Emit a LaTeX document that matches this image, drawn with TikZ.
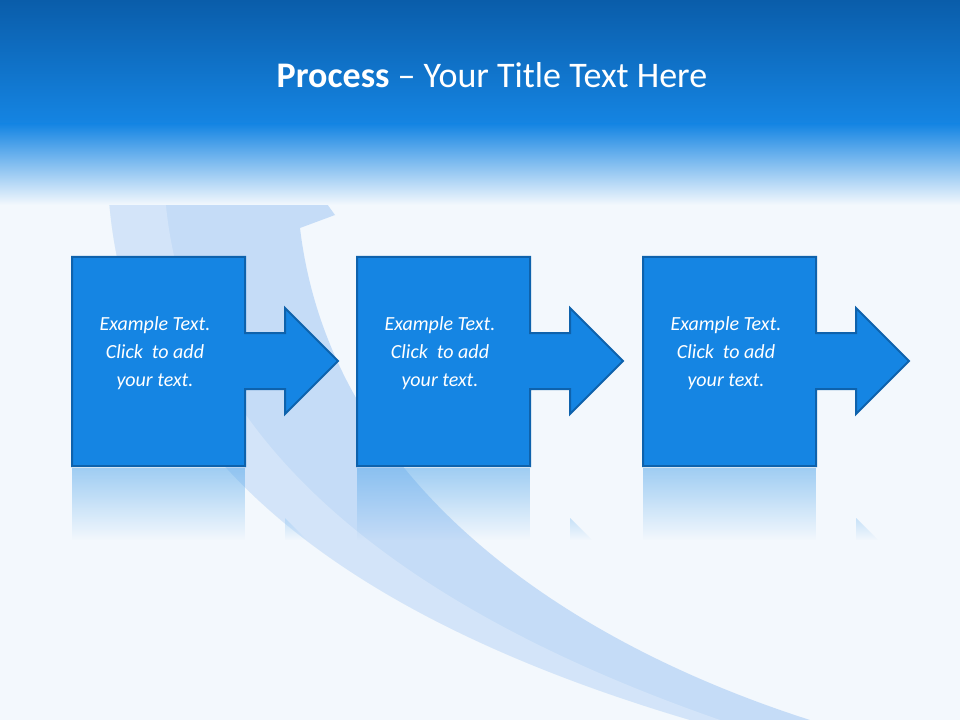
\documentclass[tikz,border=0pt]{standalone}
\usepackage{fontspec}
\setmainfont{Carlito}
\usetikzlibrary{fadings}
\definecolor{bg}{HTML}{F3F8FD}
\definecolor{hdtop}{HTML}{0A5DAA}
\definecolor{hdbot}{HTML}{1585E3}
\definecolor{boxfill}{HTML}{1585E3}
\definecolor{boxline}{HTML}{0E62AC}
\definecolor{band}{HTML}{BED8F6}
\tikzfading[name=reflfade, top color=transparent!45, bottom color=transparent!100]
\tikzset{stepshape/.style={fill=boxfill,draw=boxline,line width=1.5pt,line join=miter},
 stepText/.style={text=white,font=\itshape\fontsize{15}{21}\selectfont,align=center}}
\begin{document}
\begin{tikzpicture}[x=0.75pt,y=-0.75pt]
\useasboundingbox (0,0) rectangle (960,720);
\fill[bg] (0,0) rectangle (960,720);
% big curved arrow
\fill[band,opacity=0.85] (108,125) .. controls (100,300) and (150,560) .. (690,720)
  -- (810,720) .. controls (560,640) and (330,480) .. (300,228)
  -- (335,215) -- (270,125) -- cycle;
\fill[white,opacity=0.25] (165,125) .. controls (150,330) and (260,560) .. (720,720)
 -- (690,720) .. controls (150,560) and (100,300) .. (108,125) -- cycle;
% header
\shade[top color=hdtop,bottom color=hdbot] (0,0) rectangle (960,125);
\shade[top color=hdbot,bottom color=bg] (0,124) rectangle (960,205);
\node[text=white,font=\fontsize{27}{30}\selectfont] (title) at (492,75) {\textbf{Process} – Your Title Text Here};
% steps
\foreach \i/\x in {1/72,2/357,3/643}{
  \path[stepshape] (\x,257) -- ++(173,0) -- ++(0,76) -- ++(40,0) -- ++(0,-25) -- ++(53,53)
    -- ++(-53,53) -- ++(0,-25) -- ++(-40,0) -- ++(0,77) -- ++(-173,0) -- cycle;
  \fill[boxfill!70!white,path fading=reflfade] (\x,468) rectangle ++(173,72);
  \fill[boxfill!40!white,path fading=reflfade] (\x+213,518) -- ++(0,22) -- ++(22,0) -- cycle;
  \node[stepText] (t\i) at (\x+83,353) {Example Text.\\Click~ to add\\your text.};
}
\end{tikzpicture}
\end{document}
